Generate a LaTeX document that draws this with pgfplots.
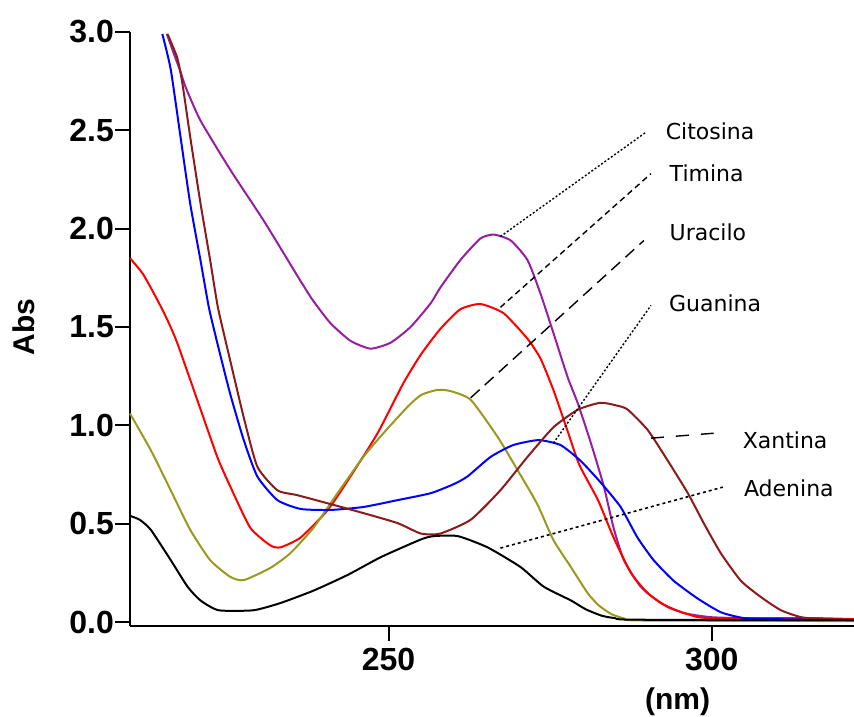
\documentclass[border=0pt]{standalone}
\usepackage{fontspec}
\setmainfont{Liberation Sans}
\newfontfamily\lblfont{DejaVu Sans}
\usepackage{pgfplots}
\pgfplotsset{compat=1.18}
\definecolor{cpurple}{RGB}{150,30,160}
\definecolor{colive}{RGB}{153,153,30}
\definecolor{cbrown}{RGB}{139,26,26}
\begin{document}
\begin{tikzpicture}
\begin{axis}[
  scale only axis, width=362pt, height=297pt,
  xmin=210, xmax=322, ymin=-0.02, ymax=3.0,
  axis x line*=bottom, axis y line*=left,
  axis line style={line width=1.1pt,-},
  xtick={250,300}, ytick={0,0.5,1,1.5,2,2.5,3},
  tick align=outside, major tick length=7.5pt,
  tick style={line width=1pt,black},
  /pgf/number format/assume math mode=true,
  yticklabel style={/pgf/number format/fixed,/pgf/number format/fixed zerofill,/pgf/number format/precision=1, xshift=3pt},
  ticklabel style={font=\fontsize{16}{19}\selectfont\bfseries},
  clip=false,
  every axis plot/.append style={line width=1pt, smooth, tension=0.35},
]
% Citosina
\addplot[cpurple] coordinates {
(215.7,2.99)(217.0,2.87)(217.8,2.80)(218.6,2.72)(220.9,2.55)(225.5,2.30)(230.7,2.04)(235.9,1.76)(238.2,1.64)(241.0,1.52)(244.1,1.43)(247.2,1.39)(250.3,1.42)(253.4,1.50)(256.5,1.62)(258.0,1.70)(261.1,1.84)(264.2,1.95)(266.3,1.97)(268.9,1.94)(271.5,1.84)(273.5,1.67)(275.5,1.47)(277.7,1.245)(279.3,1.11)(281.3,0.91)(283.3,0.69)(284.8,0.48)(286.4,0.315)(289.0,0.18)(292.1,0.097)(295.7,0.046)(299.8,0.025)(305,0.02)(316,0.02)(322,0.015)};
% Timina
\addplot[red] coordinates {
(210.0,1.85)(212.0,1.77)(214.2,1.64)(215.8,1.535)(217.3,1.42)(220.4,1.13)(223.5,0.84)(225.5,0.69)(228.6,0.48)(231.7,0.39)(233.3,0.38)(236.4,0.43)(240.6,0.57)(244.1,0.74)(248.3,0.96)(252.3,1.215)(255.0,1.36)(258.0,1.49)(261.1,1.59)(264.2,1.617)(267.8,1.57)(271.5,1.44)(273.5,1.34)(275.5,1.18)(277.5,0.99)(279.5,0.80)(282.4,0.62)(284.8,0.43)(287.5,0.25)(290.1,0.147)(293.2,0.076)(296.3,0.04)(299.8,0.02)(322,0.015)};
% Uracilo
\addplot[colive] coordinates {
(210.0,1.06)(213.2,0.875)(216.3,0.67)(219.3,0.47)(222.4,0.315)(225.5,0.23)(227.6,0.213)(231.7,0.275)(234.8,0.35)(238.4,0.48)(242.1,0.655)(246.1,0.84)(249.2,0.96)(252.9,1.093)(255.0,1.154)(257.5,1.18)(259.5,1.175)(262.7,1.13)(266.9,0.94)(270.0,0.77)(273.0,0.60)(275.5,0.417)(278.2,0.28)(280.8,0.147)(282.5,0.085)(284.5,0.04)(286.5,0.018)(289,0.008)(322,0.005)};
% Guanina
\addplot[blue] coordinates {
(215.0,2.99)(216.3,2.81)(217.8,2.47)(219.3,2.13)(220.9,1.84)(222.2,1.60)(223.5,1.42)(225.5,1.16)(227.6,0.925)(229.7,0.74)(232.8,0.62)(236.4,0.575)(241.0,0.57)(246.1,0.585)(251.4,0.62)(256.5,0.655)(260.0,0.70)(262.2,0.74)(265.8,0.84)(269.3,0.90)(273.2,0.925)(276.6,0.90)(279.7,0.82)(282.8,0.71)(285.9,0.585)(288.5,0.43)(291.0,0.315)(294.1,0.21)(297.8,0.12)(301.4,0.05)(305.0,0.02)(309.3,0.015)(322,0.01)};
% Xantina
\addplot[cbrown] coordinates {
(215.8,2.99)(217.3,2.87)(218.1,2.74)(219.3,2.47)(220.9,2.13)(222.4,1.84)(223.6,1.60)(225.5,1.33)(227.6,1.04)(229.7,0.79)(232.8,0.67)(235.9,0.645)(241.0,0.60)(246.1,0.554)(251.4,0.503)(255.0,0.45)(258.0,0.45)(262.7,0.52)(267.3,0.67)(271.5,0.84)(275.5,0.99)(279.3,1.08)(282.8,1.115)(285.4,1.10)(287.0,1.08)(290.1,0.976)(293.2,0.82)(296.3,0.655)(298.8,0.50)(301.4,0.35)(304.5,0.21)(307.6,0.127)(310.7,0.06)(313.8,0.025)(316.9,0.015)(322,0.012)};
% Adenina
\addplot[black] coordinates {
(210.0,0.54)(211.5,0.52)(213.2,0.47)(216.3,0.315)(218.9,0.18)(220.9,0.11)(223.7,0.06)(229.1,0.06)(233.3,0.097)(238.4,0.16)(243.7,0.24)(248.8,0.33)(255.0,0.42)(257.0,0.437)(260.7,0.437)(265.3,0.38)(270.4,0.28)(274.0,0.18)(278.2,0.11)(280.5,0.065)(283,0.032)(285,0.02)(288,0.012)(322,0.01)};
% leader lines
\draw[black, line width=0.7pt, dash pattern=on 1pt off 1pt] (axis cs:267.3,1.96) -- (axis cs:289.8,2.49);
\draw[black, line width=0.7pt, dash pattern=on 3pt off 2pt] (axis cs:267.3,1.60) -- (axis cs:290.6,2.28);
\draw[black, line width=0.7pt, dash pattern=on 6pt off 3.5pt] (axis cs:262.7,1.14) -- (axis cs:289.5,1.94);
\draw[black, line width=0.7pt, dash pattern=on 1pt off 1pt] (axis cs:275.5,0.91) -- (axis cs:290.6,1.61);
\draw[black, line width=0.7pt, dash pattern=on 6.5pt off 6pt] (axis cs:290.6,0.935) -- (axis cs:300.3,0.96);
\draw[black, line width=0.8pt, dash pattern=on 1.5pt off 1.5pt] (axis cs:267.3,0.376) -- (axis cs:301.7,0.686);
% labels
\node[anchor=west, font=\lblfont\fontsize{11}{13}\selectfont] at (axis cs:291.8,2.496) {Citosina};
\node[anchor=west, font=\lblfont\fontsize{11}{13}\selectfont] at (axis cs:292.4,2.28) {Timina};
\node[anchor=west, font=\lblfont\fontsize{11}{13}\selectfont] at (axis cs:292.4,1.98) {Uracilo};
\node[anchor=west, font=\lblfont\fontsize{11}{13}\selectfont] at (axis cs:292.3,1.62) {Guanina};
\node[anchor=west, font=\lblfont\fontsize{11}{13}\selectfont] at (axis cs:303.7,0.925) {Xantina};
\node[anchor=west, font=\lblfont\fontsize{11}{13}\selectfont] at (axis cs:303.9,0.68) {Adenina};
\node[font=\fontsize{15}{18}\selectfont\bfseries] at ([yshift=-38pt]axis cs:294.7,-0.02) {(nm)};
\node[rotate=90, font=\fontsize{15}{18}\selectfont\bfseries] at ([xshift=-53pt]axis cs:210,1.5) {Abs};
\end{axis}
\pgfresetboundingbox
\path[use as bounding box] ([xshift=-65pt,yshift=-45.5pt]current axis.south west) rectangle ([yshift=16pt]current axis.north east);
\end{tikzpicture}
\end{document}
